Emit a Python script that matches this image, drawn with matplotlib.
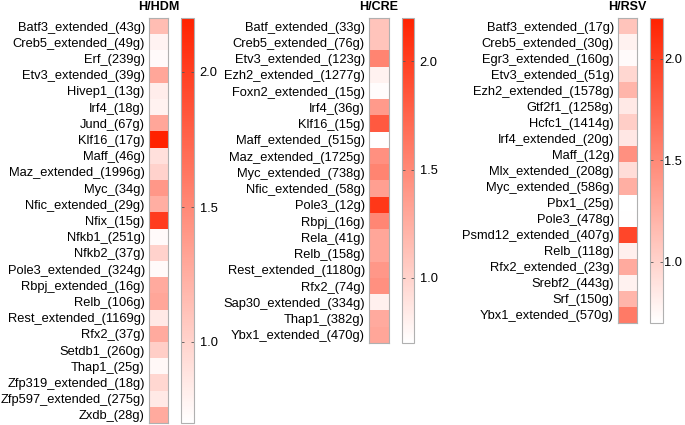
import matplotlib
matplotlib.use("Agg")
import matplotlib.pyplot as plt
from matplotlib.colors import LinearSegmentedColormap, Normalize
import numpy as np

plt.rcParams['font.family'] = ['Liberation Sans', 'DejaVu Sans']

# ---- data -------------------------------------------------------------
hdm_labels = ['Batf3_extended_(43g)', 'Creb5_extended_(49g)', 'Erf_(239g)',
              'Etv3_extended_(39g)', 'Hivep1_(13g)', 'Irf4_(18g)', 'Jund_(67g)',
              'Klf16_(17g)', 'Maff_(46g)', 'Maz_extended_(1996g)', 'Myc_(34g)',
              'Nfic_extended_(29g)', 'Nfix_(15g)', 'Nfkb1_(251g)', 'Nfkb2_(37g)',
              'Pole3_extended_(324g)', 'Rbpj_extended_(16g)', 'Relb_(106g)',
              'Rest_extended_(1169g)', 'Rfx2_(37g)', 'Setdb1_(260g)', 'Thap1_(25g)',
              'Zfp319_extended_(18g)', 'Zfp597_extended_(275g)', 'Zxdb_(28g)']
hdm_values = [1.15, 0.78, 0.73, 1.30, 0.82, 0.79, 1.30, 2.20, 0.91, 1.00, 1.40,
              1.25, 2.02, 0.73, 1.00, 0.73, 1.27, 1.30, 0.85, 1.27, 1.03, 0.75,
              0.97, 0.85, 1.27]

cre_labels = ['Batf_extended_(33g)', 'Creb5_extended_(76g)', 'Etv3_extended_(123g)',
              'Ezh2_extended_(1277g)', 'Foxn2_extended_(15g)', 'Irf4_(36g)',
              'Klf16_(15g)', 'Maff_extended_(515g)', 'Maz_extended_(1725g)',
              'Myc_extended_(738g)', 'Nfic_extended_(58g)', 'Pole3_(12g)',
              'Rbpj_(16g)', 'Rela_(41g)', 'Relb_(158g)', 'Rest_extended_(1180g)',
              'Rfx2_(74g)', 'Sap30_extended_(334g)', 'Thap1_(382g)',
              'Ybx1_extended_(470g)']
cre_values = [1.10, 1.10, 1.53, 0.79, 0.72, 1.38, 1.82, 0.71, 1.45, 1.53, 1.35,
              2.05, 1.52, 1.30, 1.30, 1.40, 1.45, 0.80, 1.27, 1.30]

rsv_labels = ['Batf3_extended_(17g)', 'Creb5_extended_(30g)', 'Egr3_extended_(160g)',
              'Etv3_extended_(51g)', 'Ezh2_extended_(1578g)', 'Gtf2f1_(1258g)',
              'Hcfc1_(1414g)', 'Irf4_extended_(20g)', 'Maff_(12g)',
              'Mlx_extended_(208g)', 'Myc_extended_(586g)', 'Pbx1_(25g)',
              'Pole3_(478g)', 'Psmd12_extended_(407g)', 'Relb_(118g)',
              'Rfx2_extended_(23g)', 'Srebf2_(443g)', 'Srf_(150g)',
              'Ybx1_extended_(570g)']
rsv_values = [1.10, 0.79, 0.73, 0.97, 1.20, 0.85, 1.03, 0.86, 1.45, 0.93, 1.24,
              0.70, 0.71, 1.95, 0.80, 1.27, 0.79, 1.20, 1.60]

titles = ['H/HDM', 'H/CRE', 'H/RSV']
cbar_ticks = [1.0, 1.5, 2.0]

# ---- figure -----------------------------------------------------------
W, H = 685, 425
fig = plt.figure(figsize=(W / 100, H / 100), dpi=100)

cmap = LinearSegmentedColormap.from_list('wr', ['#ffffff', '#ff2200'])
allv = np.concatenate([hdm_values, cre_values, rsv_values])
norm = Normalize(vmin=allv.min(), vmax=allv.max())

frame = '#b0b0b0'

def px_axes(x0, x1, y0, y1):
    return fig.add_axes([x0 / W, 1 - y1 / H, (x1 - x0) / W, (y1 - y0) / H])

# (heat x0, heat x1, cbar x0, cbar x1, bottom y, cbar label pad) in pixels
boxes = [(149, 168, 181, 194, 423, 4),
         (369, 389, 402, 414, 343, 4),
         (618, 637, 650, 663, 323, 1)]

panels = [(hdm_labels, hdm_values), (cre_labels, cre_values), (rsv_labels, rsv_values)]

for (labels, vals), title, (hx0, hx1, cx0, cx1, yb, cpad) in zip(panels, titles, boxes):
    ax = px_axes(hx0, hx1, 18, yb)
    im = ax.imshow(np.array(vals)[:, None], cmap=cmap, norm=norm, aspect='auto')
    ax.set_xticks([])
    ax.set_yticks(range(len(labels)))
    ax.set_yticklabels(labels, fontsize=9.3)
    ax.tick_params(axis='y', length=0, pad=3)
    for s in ax.spines.values():
        s.set_color(frame)
        s.set_linewidth(0.8)
    fig.text((hx0 + hx1) / 2 / W, 1 - 1 / H, title, ha='center', va='top',
             fontsize=9, fontweight='bold')

    cax = px_axes(cx0, cx1, 18, yb)
    cb = fig.colorbar(im, cax=cax)
    cb.set_ticks(cbar_ticks)
    cb.ax.tick_params(labelsize=9.3, direction='in', length=2.5, width=0.6,
                      color='#555555', left=True, right=True, pad=cpad)
    cb.outline.set_edgecolor(frame)
    cb.outline.set_linewidth(0.8)

fig.savefig('out.png', dpi=100)
